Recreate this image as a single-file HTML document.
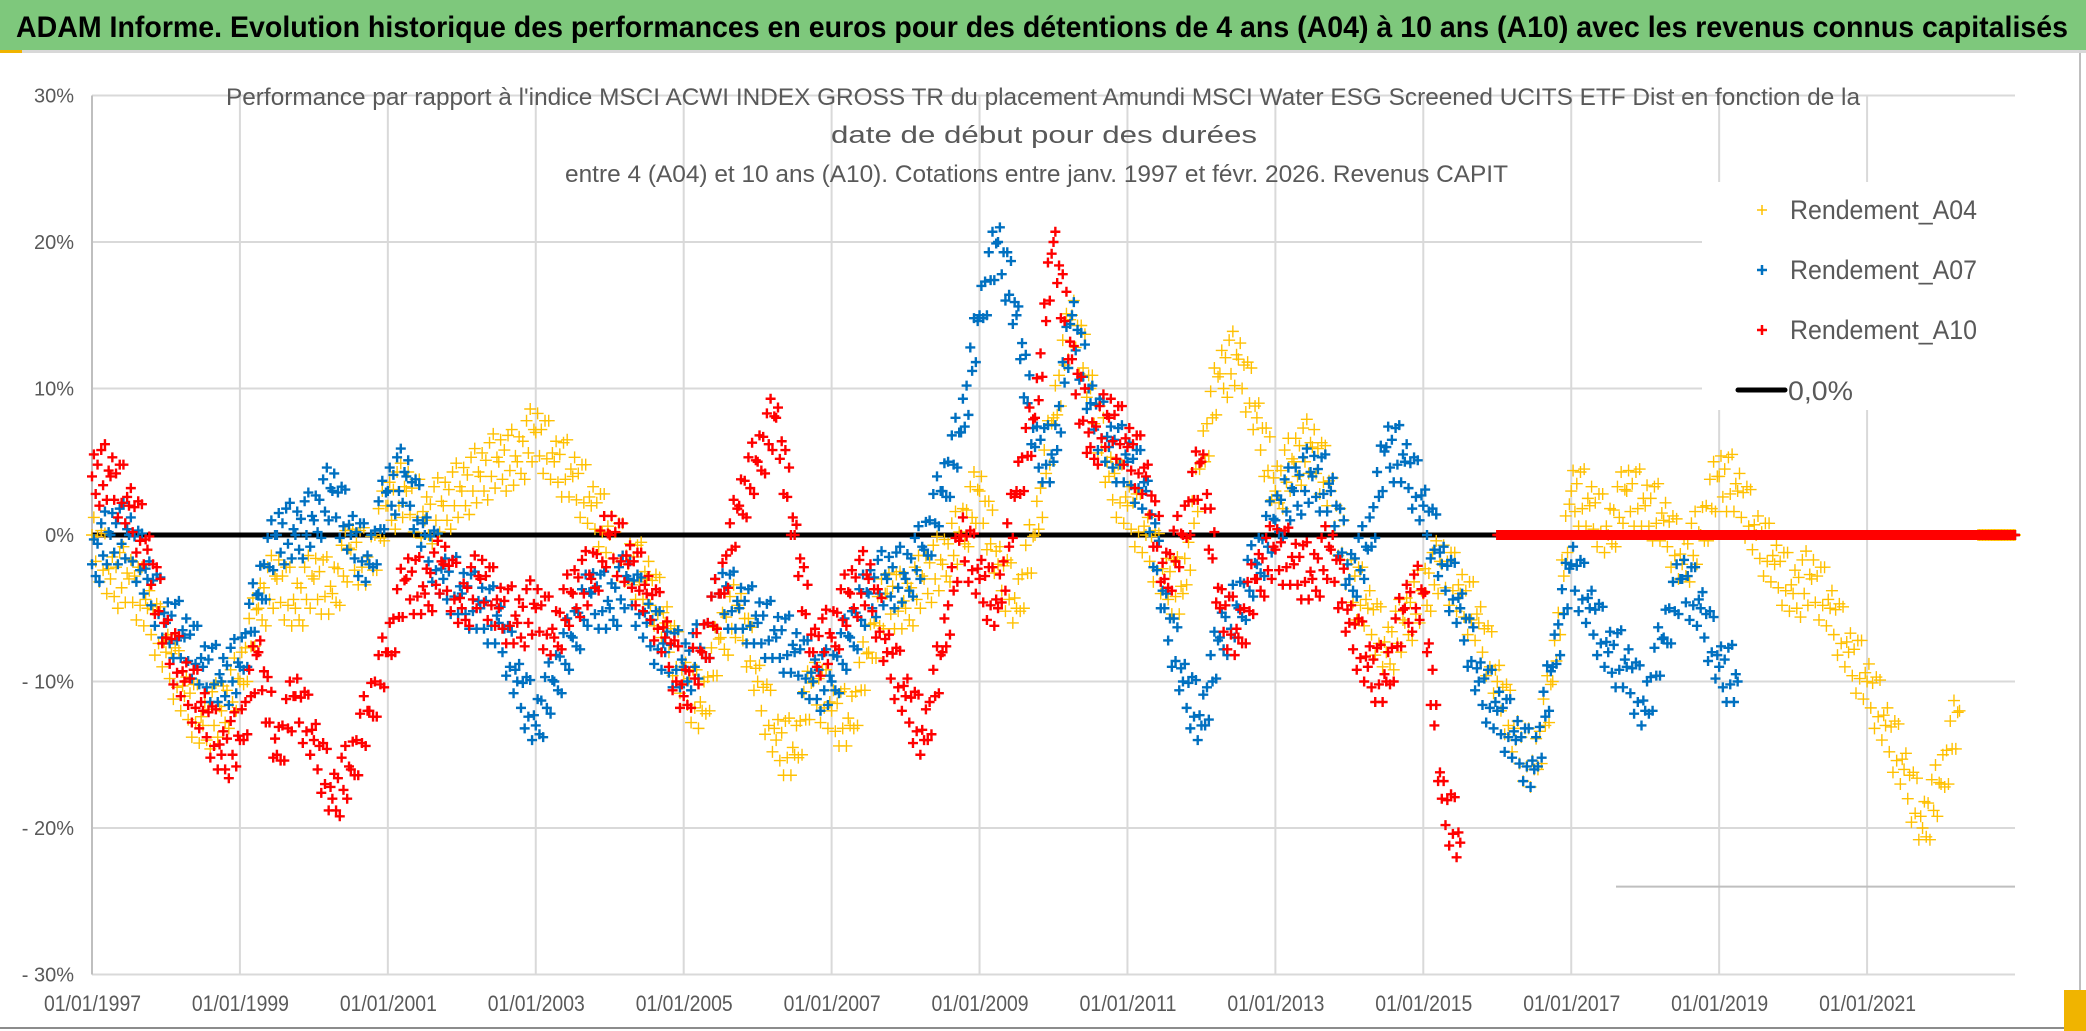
<!DOCTYPE html>
<html><head><meta charset="utf-8"><style>
html,body{margin:0;padding:0;background:#fff;}
svg{display:block;font-family:"Liberation Sans",sans-serif;}
</style></head><body>
<svg id="chart" width="2086" height="1031" viewBox="0 0 2086 1031" xmlns="http://www.w3.org/2000/svg">
<rect x="0" y="0" width="2086" height="1031" fill="#fff"/>
<rect x="0" y="0" width="2086" height="50" fill="#7ec87c"/>
<rect x="0" y="50" width="2086" height="3" fill="#d8d8d8"/>
<rect x="0" y="50" width="22" height="3" fill="#f0b400"/>
<text x="16" y="37" font-size="30" font-weight="bold" fill="#000" textLength="2052" lengthAdjust="spacingAndGlyphs">ADAM Informe. Evolution historique des performances en euros pour des détentions de 4 ans (A04) à 10 ans (A10) avec les revenus connus capitalisés</text>
<line x1="2080" y1="53" x2="2080" y2="1028" stroke="#bfbfbf" stroke-width="2"/>
<line x1="0" y1="1028" x2="2080" y2="1028" stroke="#8c8c8c" stroke-width="2"/>
<rect x="2064" y="990" width="22" height="41" fill="#f0b400"/>
<g id="grid"></g>
<g id="axes"></g>
<g id="plot"></g>
<g fill="#595959" font-size="24">
<text x="226" y="105" textLength="1634" lengthAdjust="spacingAndGlyphs">Performance par rapport à l'indice MSCI ACWI INDEX GROSS TR  du placement Amundi MSCI Water ESG Screened UCITS ETF Dist en fonction de la</text>
<text x="831" y="143" textLength="426" lengthAdjust="spacingAndGlyphs">date de début pour des durées</text>
<text x="565" y="182" textLength="943" lengthAdjust="spacingAndGlyphs">entre 4 (A04) et 10 ans (A10). Cotations entre janv. 1997 et févr. 2026. Revenus CAPIT</text>
</g>
<g id="legend">
<rect x="1702" y="182" width="313" height="228" fill="#fff"/>
<g><path d="M1757 210h10M1762 205v10" stroke="#FFC000" stroke-width="1.5"/><text x="1790" y="219" font-size="27" fill="#595959" textLength="187" lengthAdjust="spacingAndGlyphs">Rendement_A04</text></g>
<g><path d="M1757 270h10M1762 265v10" stroke="#0070C0" stroke-width="2.5"/><text x="1790" y="279" font-size="27" fill="#595959" textLength="187" lengthAdjust="spacingAndGlyphs">Rendement_A07</text></g>
<g><path d="M1757 330h10M1762 325v10" stroke="#FF0000" stroke-width="2.5"/><text x="1790" y="339" font-size="27" fill="#595959" textLength="187" lengthAdjust="spacingAndGlyphs">Rendement_A10</text></g>
<g><line x1="1738" y1="390" x2="1785" y2="390" stroke="#000" stroke-width="5" stroke-linecap="round"/><text x="1788" y="400" font-size="27" fill="#595959" textLength="65" lengthAdjust="spacingAndGlyphs">0,0%</text></g>
</g>
</svg>
<script>
const startYear = 1997;
const stepYears = 0.25;
const a04Values = [0,-3,-3,-5, -8,-11,-13,-12, -10,-5,-3,-5, -3,-4,-1,-2, 2,3,1,2, 3,4,5,5, 7,5,4,2, 0,-2,-3,-6, -10,-12,-7,-5, -10,-14,-15,-10, -12,-13,-8,-4, -5,-3,-2,0, 3,-2,-5,0, 8,15,10,4, 2,0,-3,-4, 5,11,12,8, 3,5,6,3, -3,-5,-8,-6, -4,-2,-4,-6, -10,-14,-16,-10, 3,2,0,3, 2,1,-2,0, 4,3,0,-2, -4,-3,-5,-8, -10,-13,-16,-20, -17,-12];
const a07Values = [-2,0,0,-3, -6,-7,-9,-10, -9,-4,0,0, 1,3,0,-2, 3,4,0,-3, -4,-5,-6,-10, -13,-10,-7,-4, -5,-3,-6,-8, -9,-8,-4,-5, -6,-7,-8,-10, -10,-7,-4,-3, -3,-1,3,7, 15,20,15,6, 5,15,9,6, 5,3,-5,-10, -13,-7,-5,-2, 1,3,4,3, -3,-1,6,5, 2,-2,-5,-10, -12,-14,-16,-9, -2,-5,-8,-9, -12,-7,-3,-5, -9,-10];
const a10Values = [4,4,2,-1, -7,-10,-12,-15, -14,-8,-15,-11, -14,-18,-16,-12, -8,-3,-4,-2, -5,-3,-5,-6, -5,-7,-4,-3, 0,-2,-4,-7, -11,-8,-4,2, 5,8,0,-8, -7,-4,-3,-8, -11,-14,-8,0, -3,-5,3,8, 20,12,6,8, 6,4,-3,0, 5,-5,-7,-3, -1,-2,-3,-1, -6,-9,-10,-5, -4,-18,-21];
const zeroStartA04 = 2022.5;
const zeroStartA07 = 2019.5;
const zeroStartA10 = 2016.0;
const endYear = 2023.0;
const yTicks = [30,20,10,0,-10,-20,-30];
const yTickLabels = ["30%","20%","10%","0%","- 10%","- 20%","- 30%"];
const xTickYears = [1997,1999,2001,2003,2005,2007,2009,2011,2013,2015,2017,2019,2021];
const xTickLabels = ["01/01/1997","01/01/1999","01/01/2001","01/01/2003","01/01/2005","01/01/2007","01/01/2009","01/01/2011","01/01/2013","01/01/2015","01/01/2017","01/01/2019","01/01/2021"];

const NS = "http://www.w3.org/2000/svg";
const X0 = 92, X1 = 2015;
function xScale(yr){ return X0 + (yr - startYear) * (X1 - X0) / (endYear - startYear); }
function yScale(v){ return 535 - v * 14.65; }
function mk(tag, attrs, parent){ const e = document.createElementNS(NS, tag); for (const k in attrs) e.setAttribute(k, attrs[k]); parent.appendChild(e); return e; }

const grid = document.getElementById('grid');
yTicks.forEach(function(t){
  const l = mk('line', {x1:X0, x2:X1, y1:yScale(t), y2:yScale(t), stroke:'#d9d9d9', 'stroke-width':2}, grid);
  
  
});
xTickYears.forEach(function(yr){
  const l = mk('line', {x1:xScale(yr), x2:xScale(yr), y1:yScale(30), y2:yScale(-30), stroke:'#d9d9d9', 'stroke-width':2}, grid);
  
  
});
const extra = mk('line', {x1:1616, x2:X1, y1:yScale(-24), y2:yScale(-24), stroke:'#bfbfbf', 'stroke-width':2}, grid);



const axes = document.getElementById('axes');
const yAxis = mk('line', {x1:X0, x2:X0, y1:yScale(30), y2:yScale(-30), stroke:'#bfbfbf', 'stroke-width':2}, axes);


yTicks.forEach(function(t, i){
  const tx = mk('text', {x:74, y:yScale(t)+7, 'text-anchor':'end', 'font-size':20, fill:'#595959'}, axes);
  tx.textContent = yTickLabels[i];
  
  
});
xTickYears.forEach(function(yr, i){
  const tx = mk('text', {x:xScale(yr)-48, y:1011, 'font-size':22, fill:'#595959', textLength:97, lengthAdjust:'spacingAndGlyphs'}, axes);
  tx.textContent = xTickLabels[i];
  
  
});

const plot = document.getElementById('plot');
const jitter = [0,1.5,-1.2,0.8,-2,1.8,-0.6,2.2,-1.6,0.4];
function plus(g, x, y, size, color, sw){
  return mk('path', {d:'M'+(x-size)+' '+y+'h'+(2*size)+'M'+x+' '+(y-size)+'v'+(2*size), stroke:color, 'stroke-width':sw, fill:'none'}, g);
}
function drawSeries(name, values, zeroStart, color, size, sw){
  const g = mk('g', {}, plot);
  
  
  for (let i = 0; i < values.length; i++){
    const yr = startYear + i * stepYears;
    const p = plus(g, xScale(yr), yScale(values[i]), size, color, sw);
    
    
    if (i + 1 < values.length){
      const v0 = values[i], v1 = values[i+1];
      for (let k = 1; k < 10; k++){
        const f = k / 10;
        const q = plus(g, xScale(yr + f * stepYears), yScale(v0 + (v1 - v0) * f + jitter[k]), size, color, sw);
        
        
      }
    }
  }
  for (let yr = zeroStart; yr <= endYear + 0.001; yr += 0.02){
    const z = plus(g, xScale(yr), yScale(0), size, color, sw);
    
    
  }
}
const zl = mk('line', {x1:X0, x2:X1, y1:yScale(0), y2:yScale(0), stroke:'#000', 'stroke-width':5}, plot);


drawSeries('series-a04', a04Values, zeroStartA04, '#FFC000', 6, 1.4);
drawSeries('series-a07', a07Values, zeroStartA07, '#0070C0', 5, 2.4);
drawSeries('series-a10', a10Values, zeroStartA10, '#FF0000', 5, 2.4);
plot.appendChild(document.getElementById('legend'));
</script>
</body></html>
